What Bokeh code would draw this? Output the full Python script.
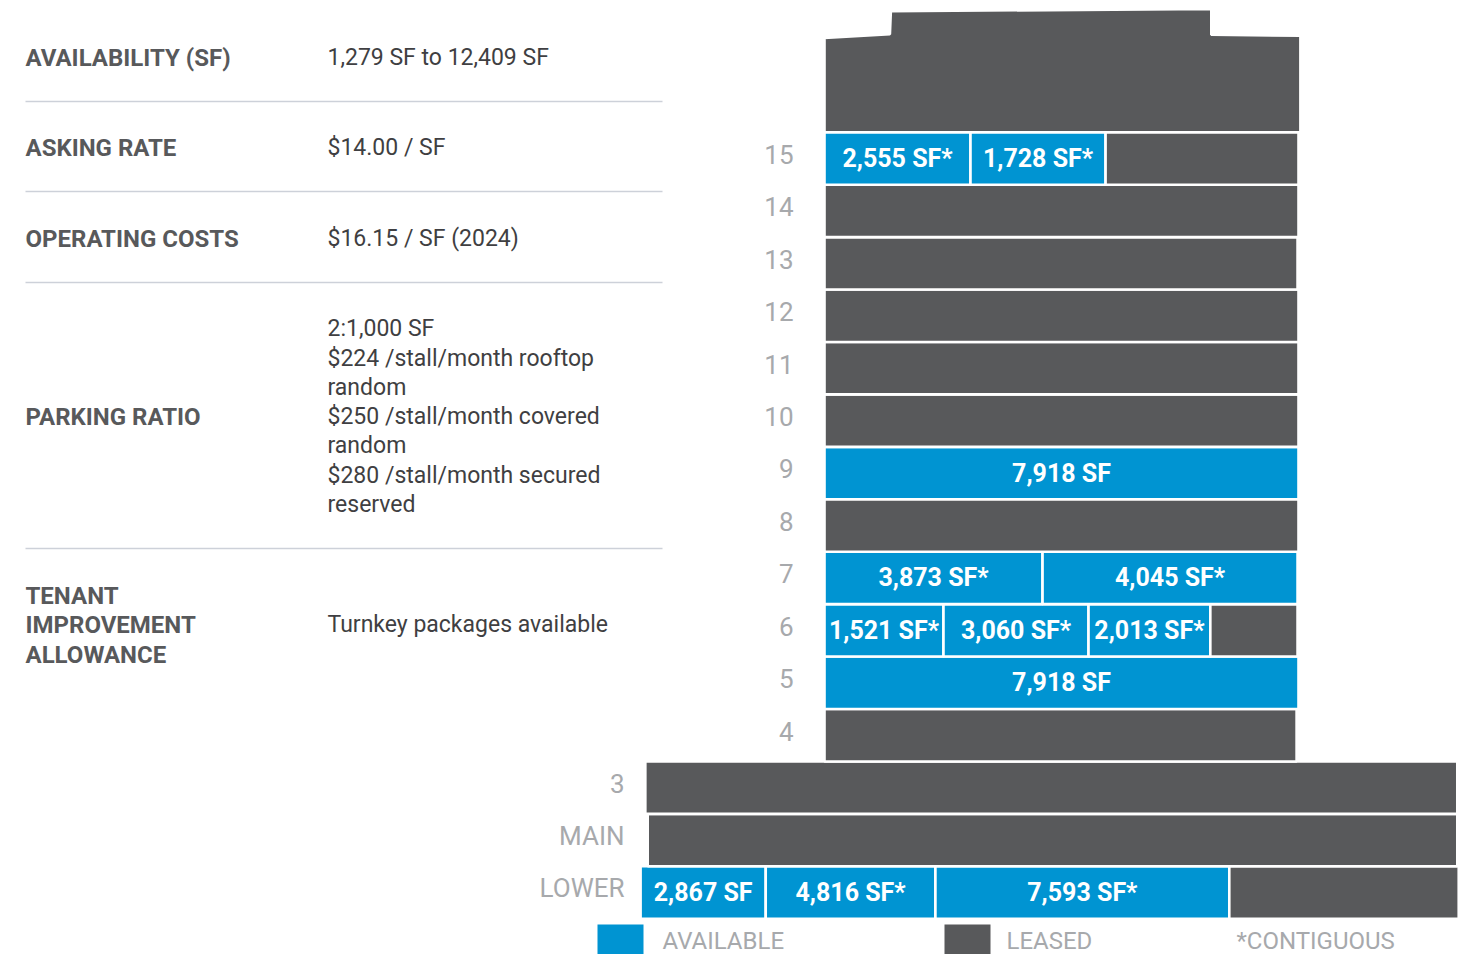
from bokeh.plotting import figure
from bokeh.models import Range1d, ColumnDataSource
from bokeh.core.properties import value
from bokeh.embed import file_html
from bokeh.resources import INLINE

# ---------------- data ----------------
floor_names = ["LOWER", "MAIN", "3", "4", "5", "6", "7", "8", "9",
               "10", "11", "12", "13", "14", "15"]
# plan offset of each floor's west edge, in % of the typical tower floor plate
floor_left = [-38.8, -37.3, -37.8, 0, 0, 0, 0, 0, 0, 0, 0, 0, 0, 0, 0]

suite_floor = ["LOWER", "LOWER", "LOWER", "LOWER",
               "MAIN", "3", "4", "5",
               "6", "6", "6", "6",
               "7", "7",
               "8", "9", "10", "11", "12", "13", "14",
               "15", "15", "15"]
suite_status = ["A", "A", "A", "L",
                "L", "L", "L", "A",
                "A", "A", "A", "L",
                "A", "A",
                "L", "A", "L", "L", "L", "L", "L",
                "A", "A", "L"]
# drawn plan share of each suite (% of typical tower plate width)
suite_share = [26.4, 35.8, 62.0, 48.4,
               170.8, 171.3, 99.6, 100.0,
               25.1, 30.6, 25.7, 18.4,
               46.0, 53.8,
               100.0, 100.0, 100.0, 100.0, 100.0, 99.8, 100.0,
               30.8, 28.5, 40.7]
suite_label = ["2,867 SF", "4,816 SF*", "7,593 SF*", "",
               "", "", "", "7,918 SF",
               "1,521 SF*", "3,060 SF*", "2,013 SF*", "",
               "3,873 SF*", "4,045 SF*",
               "", "7,918 SF", "", "", "", "", "",
               "2,555 SF*", "1,728 SF*", ""]

info_labels = ["AVAILABILITY (SF)", "ASKING RATE", "OPERATING COSTS",
               "PARKING RATIO", "TENANT", "IMPROVEMENT", "ALLOWANCE"]
info_values = ["1,279 SF to 12,409 SF", "$14.00 / SF", "$16.15 / SF (2024)",
               "2:1,000 SF", "$224 /stall/month rooftop", "random",
               "$250 /stall/month covered", "random",
               "$280 /stall/month secured", "reserved",
               "Turnkey packages available"]
legend_labels = ["AVAILABLE", "LEASED", "*CONTIGUOUS"]

# ---------------- styles / layout ----------------
BLUE = "#0094d2"
DARK = "#58595b"
LIGHT = "#a7a9ac"
LABEL_C = "#58595b"
VALUE_C = "#3f3f42"
RULE_C = "#cdd1d9"
FONT = "Roboto"

W, H = 1464, 954
# layout mapping from reference-page pixels to plan units
PX0, PXW = 824.0, 4.74      # tower west edge, px per plate-%
PY0, PYH = 892.0, 52.43     # LOWER centre, px per floor


def X(px):
    return (px - PX0) / PXW


def Y(py):
    return (PY0 - py) / PYH


p = figure(width=W, height=H, output_backend="svg", toolbar_location=None,
           x_range=Range1d(X(0), X(W)), y_range=Range1d(Y(H), Y(0)),
           min_border=0, x_axis_location=None, y_axis_location=None,
           outline_line_color=None, background_fill_color="white",
           border_fill_color="white")
p.xgrid.visible = False
p.ygrid.visible = False

# ---------------- stack plan ----------------
fidx = {n: i for i, n in enumerate(floor_names)}
cursor = {n: floor_left[i] for i, n in enumerate(floor_names)}
L, R, B, T, C = [], [], [], [], []
tx, ty, tt = [], [], []
for f, s, w, lab in zip(suite_floor, suite_status, suite_share, suite_label):
    i = fidx[f]
    l = cursor[f]
    r = l + w
    cursor[f] = r
    L.append(l); R.append(r); B.append(i - 0.5); T.append(i + 0.5)
    C.append(BLUE if s == "A" else DARK)
    if lab:
        tx.append((l + r) / 2); ty.append(i); tt.append(lab)

p.quad(left="l", right="r", bottom="b", top="t", fill_color="c",
       line_color="white", line_width=2.6,
       source=ColumnDataSource(dict(l=L, r=R, b=B, t=T, c=C)))

# roof / penthouse above floor 15
top_i = len(floor_names) - 1 + 0.5
roof_x = [0, 100.4, 100.4, 81.6, 81.6, 14.0, 13.8, 0]
roof_y = [top_i, top_i, top_i + 1.84, top_i + 1.86, top_i + 2.35,
          top_i + 2.31, top_i + 1.87, top_i + 1.80]
p.patch(roof_x, roof_y, fill_color=DARK, line_color="white", line_width=2.6)

p.text(x="x", y="y", text="t", source=ColumnDataSource(dict(x=tx, y=ty, t=tt)),
       text_font=value(FONT), text_font_size=value("25px"),
       text_font_style="bold", text_color="white",
       text_align="center", text_baseline="middle")

# floor labels
flx = [X(624) if floor_left[i] < 0 else X(793) for i in range(len(floor_names))]
fly = [i + 0.08 for i in range(len(floor_names))]
p.text(x="x", y="y", text="t",
       source=ColumnDataSource(dict(x=flx, y=fly, t=floor_names)),
       text_font=value(FONT), text_font_size=value("26px"),
       text_color=LIGHT, text_align="right", text_baseline="middle")

# ---------------- legend ----------------
p.quad(left=[X(597), X(944)], right=[X(643), X(990)],
       bottom=[Y(960), Y(960)], top=[Y(924), Y(924)],
       fill_color=[BLUE, DARK], line_color=None)
p.text(x=[X(662), X(1006), X(1236)], y=[Y(940)] * 3, text=legend_labels,
       text_font=value(FONT), text_font_size=value("24px"),
       text_color=LIGHT, text_align="left", text_baseline="middle")

# ---------------- info panel ----------------
label_y = [57, 147, 238, 416, 595, 624, 654]
value_y = [57, 147, 238, 328, 358, 387, 416, 445, 475, 504, 624]
p.text(x=[X(25)] * len(info_labels), y=[Y(v) for v in label_y],
       text=info_labels, text_font=value(FONT), text_font_size=value("24px"),
       text_font_style="bold", text_color=LABEL_C,
       text_align="left", text_baseline="middle")
p.text(x=[X(327)] * len(info_values), y=[Y(v) for v in value_y],
       text=info_values, text_font=value(FONT), text_font_size=value("23px"),
       text_color=VALUE_C, text_align="left", text_baseline="middle")
rule_y = [101, 191, 282, 548]
p.segment(x0=[X(25)] * 4, x1=[X(662)] * 4, y0=[Y(v) for v in rule_y],
          y1=[Y(v) for v in rule_y], line_color=RULE_C, line_width=1.5)

open("out.html", "w").write(file_html(p, INLINE))
